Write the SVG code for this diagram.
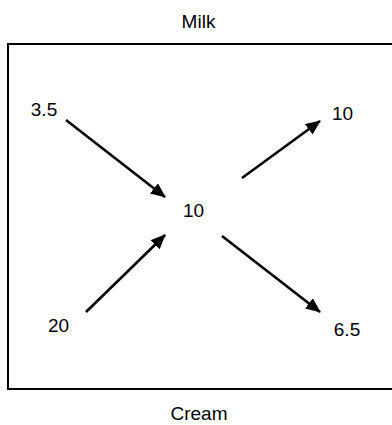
<svg xmlns="http://www.w3.org/2000/svg" width="392" height="425" viewBox="0 0 392 425">
<style>
  text { font-family: "Liberation Sans", Arial, sans-serif; font-size: 19px; fill: #000; text-anchor: middle; }
  .conn { stroke: #000; stroke-width: 2.6; fill: none; marker-end: url(#ah); }
</style>
<defs>
  <marker id="ah" markerUnits="userSpaceOnUse" markerWidth="15" markerHeight="13" viewBox="0 0 15 13" refX="14" refY="6.5" orient="auto">
    <path d="M0,0 L15,6.5 L0,13 z" fill="#000"/>
  </marker>
</defs>
<rect width="392" height="425" fill="#fff"/>
<rect x="8" y="44" width="392" height="345" fill="none" stroke="#000" stroke-width="2"/>
<g id="milk"><text x="198.5" y="28">Milk</text></g>
<g id="cream"><text x="199" y="420">Cream</text></g>
<g id="n35"><text x="44" y="116">3.5</text></g>
<g id="n20"><text x="58.5" y="332">20</text></g>
<g id="ncenter"><text x="193.5" y="217">10</text></g>
<g id="n10"><text x="342.5" y="120">10</text></g>
<g id="n65"><text x="347" y="336">6.5</text></g>
<g id="connectors">
  <line class="conn" x1="66" y1="120" x2="165" y2="197"/>
  <line class="conn" x1="86" y1="312" x2="165" y2="235"/>
  <line class="conn" x1="242" y1="178" x2="320" y2="121"/>
  <line class="conn" x1="222" y1="236" x2="320" y2="312"/>
</g>
</svg>
